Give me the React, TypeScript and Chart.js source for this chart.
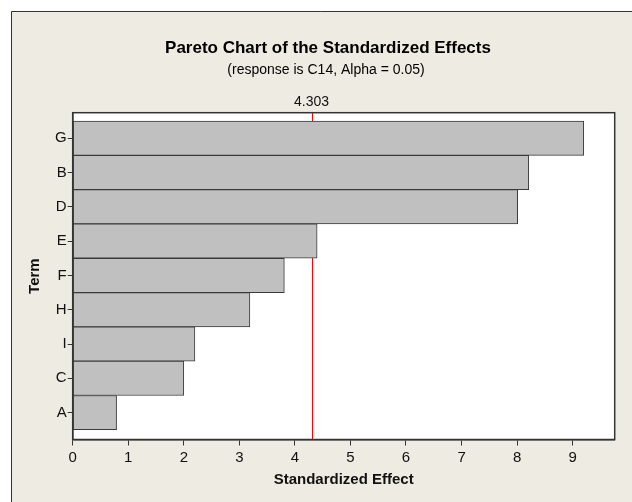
import React, { useEffect, useRef } from "react";
import { Chart, registerables } from "chart.js";

Chart.register(...registerables);

// ---- data ----
const TERMS = ["G", "B", "D", "E", "F", "H", "I", "C", "A"];
const EFFECTS = [9.2, 8.21, 8.01, 4.4, 3.81, 3.19, 2.2, 2.0, 0.79];
const X_TICKS = [0, 1, 2, 3, 4, 5, 6, 7, 8, 9];
const THRESHOLD = 4.303;
const THRESHOLD_LABEL = "4.303";
const TITLE = "Pareto Chart of the Standardized Effects";
const SUBTITLE = "(response is C14, Alpha = 0.05)";
const X_TITLE = "Standardized Effect";
const Y_TITLE = "Term";

const FONT = "'Liberation Sans', Arial, sans-serif";
const BEIGE = "#EEEBE2";

const framePlugin = {
  id: "minitabFrame",
  beforeDraw(chart: any) {
    const { ctx, width, height, chartArea } = chart;
    ctx.save();
    ctx.fillStyle = "#FFFFFF";
    ctx.fillRect(0, 0, width, height);
    ctx.fillStyle = BEIGE;
    ctx.fillRect(11, 11, width - 11, height - 11);
    ctx.strokeStyle = "#333333";
    ctx.lineWidth = 1;
    ctx.beginPath();
    ctx.moveTo(11.5, height);
    ctx.lineTo(11.5, 11.5);
    ctx.lineTo(width, 11.5);
    ctx.stroke();
    // plot area
    ctx.fillStyle = "#FFFFFF";
    ctx.fillRect(chartArea.left, chartArea.top, chartArea.right - chartArea.left, chartArea.bottom - chartArea.top);
    // titles
    ctx.fillStyle = "#000000";
    ctx.textAlign = "center";
    ctx.textBaseline = "middle";
    ctx.font = `bold 17px ${FONT}`;
    ctx.fillText(TITLE, 328, 48);
    ctx.font = `14px ${FONT}`;
    ctx.fillText(SUBTITLE, 326, 70);
    ctx.restore();
  },
  beforeDatasetsDraw(chart: any) {
    const { ctx, chartArea, scales } = chart;
    const x = Math.round(scales.x.getPixelForValue(THRESHOLD)) + 0.5;
    ctx.save();
    ctx.strokeStyle = "#FF0000";
    ctx.lineWidth = 1;
    ctx.beginPath();
    ctx.moveTo(x, chartArea.top);
    ctx.lineTo(x, chartArea.bottom);
    ctx.stroke();
    ctx.fillStyle = "#111111";
    ctx.font = `14px ${FONT}`;
    ctx.textAlign = "center";
    ctx.textBaseline = "middle";
    ctx.fillText(THRESHOLD_LABEL, x - 1, 102);
    ctx.restore();
  },
  afterDatasetsDraw(chart: any) {
    const { ctx, chartArea } = chart;
    ctx.save();
    ctx.strokeStyle = "#333333";
    ctx.lineWidth = 1.5;
    ctx.strokeRect(chartArea.left, chartArea.top, chartArea.right - chartArea.left, chartArea.bottom - chartArea.top);
    ctx.restore();
  },
};

export default function App() {
  const canvasRef = useRef<HTMLCanvasElement | null>(null);

  useEffect(() => {
    const canvas = canvasRef.current;
    if (!canvas) return;
    const chart = new Chart(canvas, {
      type: "bar",
      data: {
        datasets: [
          {
            data: EFFECTS.map((v, i) => ({ x: v, y: i })),
            backgroundColor: "#C0C0C0",
            borderColor: "#3A3A3A",
            borderWidth: 1,
            borderSkipped: false,
            barPercentage: 1,
            categoryPercentage: 1,
          },
        ],
      },
      options: {
        indexAxis: "y",
        responsive: false,
        animation: false,
        devicePixelRatio: 1,
        layout: { padding: { top: 112.7, left: 0, right: 17.3, bottom: 0 } },
        plugins: {
          legend: { display: false },
          tooltip: { enabled: false },
          title: { display: false },
        },
        scales: {
          x: {
            type: "linear",
            min: 0,
            max: 9.757,
            offset: false,
            afterBuildTicks: (scale: any) => {
              scale.ticks = X_TICKS.map((v) => ({ value: v }));
            },
            afterFit: (scale: any) => {
              scale.height = 502 - 439.5;
            },
            grid: {
              display: true,
              offset: false,
              drawOnChartArea: false,
              drawTicks: true,
              tickLength: 6,
              tickColor: "#333333",
              tickWidth: 1,
            },
            border: { display: true, color: "#333333", width: 1.5 },
            ticks: {
              color: "#111111",
              font: { family: FONT, size: 15 },
              padding: 3,
              maxRotation: 0,
              callback: (v: any) => String(v),
            },
            title: {
              display: true,
              text: X_TITLE,
              color: "#111111",
              font: { family: FONT, size: 15, weight: "bold" },
              padding: { top: 0, bottom: 13 },
            },
          },
          y: {
            type: "linear",
            reverse: true,
            min: -0.743,
            max: 8.784,
            offset: false,
            afterBuildTicks: (scale: any) => {
              scale.ticks = TERMS.map((_, i) => ({ value: i }));
            },
            afterFit: (scale: any) => {
              scale.width = 72.7;
            },
            grid: {
              display: true,
              offset: false,
              drawOnChartArea: false,
              drawTicks: true,
              tickLength: 5,
              tickColor: "#333333",
              tickWidth: 1,
            },
            border: { display: true, color: "#333333", width: 1.5 },
            ticks: {
              color: "#111111",
              font: { family: FONT, size: 15 },
              padding: 1,
              callback: (v: any) => TERMS[v as number] ?? "",
            },
            title: {
              display: true,
              text: Y_TITLE,
              color: "#111111",
              font: { family: FONT, size: 15, weight: "bold" },
              padding: { top: 26, bottom: 0 },
            },
          },
        },
      },
      plugins: [framePlugin],
    } as any);
    return () => chart.destroy();
  }, []);

  return (
    <div style={{ position: "absolute", left: 0, top: 0, width: 632, height: 502 }}>
      <canvas ref={canvasRef} width={632} height={502} style={{ display: "block", width: 632, height: 502 }} />
    </div>
  );
}
